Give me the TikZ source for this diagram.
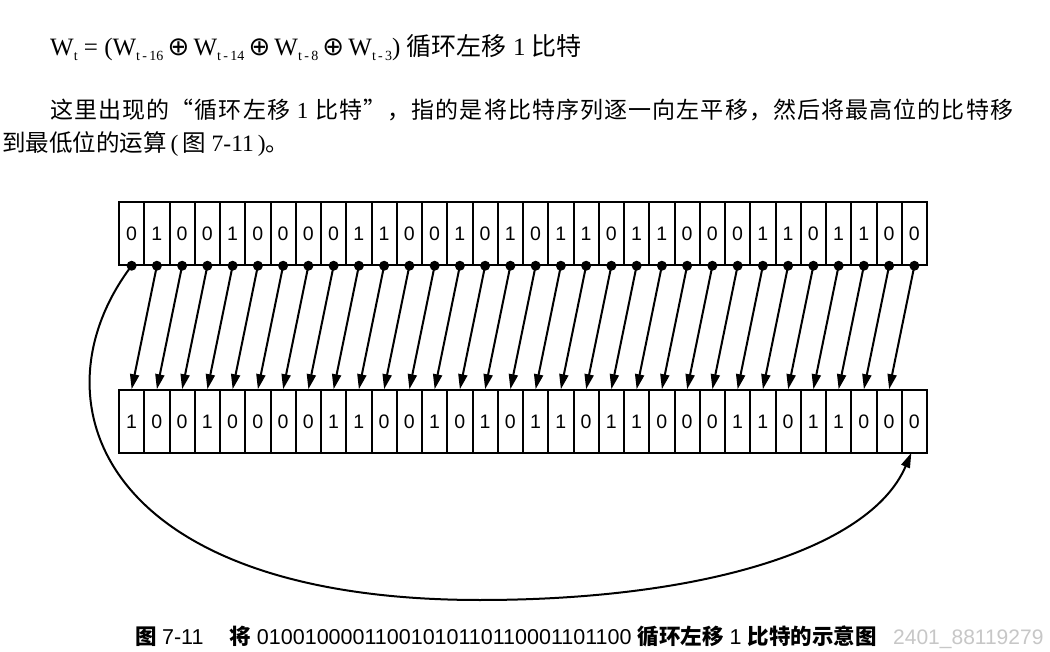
\documentclass[tikz,border=0pt]{standalone}
\usepackage{fontspec}
\setmainfont{Liberation Serif}
\setsansfont{Liberation Sans}
\newfontfamily\cjk{Noto Sans CJK SC}
\newfontfamily\dejavu{DejaVu Sans}
\usetikzlibrary{arrows.meta}
\makeatletter
\newcommand\spreadtext[2]{\makebox[#1][s]{\@tfor\sp@x:=#2\do{\sp@x\hskip0pt plus1fil}\unskip}}
\makeatother
\newcommand\wsb[1]{\raisebox{-4.5pt}{\fontsize{14}{14}\selectfont #1}}
\newcommand\xo{{\dejavu\fontsize{26}{26}\selectfont ⊕}}
\tikzset{
  cell/.style={draw, line width=2pt, minimum width=25.25pt, minimum height=62.5pt,
    inner sep=0pt, font=\sffamily\fontsize{19.5}{19.5}\selectfont},
  arr/.style={line width=2pt, -{Triangle[length=15pt,width=9pt]}},
  txt/.style={anchor=base west, inner sep=0pt},
}
\begin{document}
\begin{tikzpicture}[x=1pt,y=-1pt]
\fill[white] (0,0) rectangle (1050,652);
\useasboundingbox (0,0) rectangle (1050,652);
% text lines
\node[txt] (eq) at (50,56) {\fontsize{25}{25}\selectfont W\wsb{t} = (W\wsb{t\,-\,16}\,\xo\,W\wsb{t\,-\,14}\,\xo\,W\wsb{t\,-\,8}\,\xo\,W\wsb{t\,-\,3}) {\cjk 循环左移} 1 {\cjk 比特}};
\node[txt] (l2) at (50,119) {\cjk\fontsize{23}{23}\selectfont\spreadtext{963pt}{这里出现的“循环左移{{\rmfamily\ 1\ }}比特”，指的是将比特序列逐一向左平移，然后将最高位的比特移}};
\node[txt] (l3) at (2,152) {\fontsize{23.5}{23.5}\selectfont{\cjk 到最低位的运算}\,(\,{\cjk 图} 7-11\,){\cjk 。}};
% cells
\foreach \b [count=\i] in {0,1,0,0,1,0,0,0,0,1,1,0,0,1,0,1,0,1,1,0,1,1,0,0,0,1,1,0,1,1,0,0}
  \node[cell] (t\i) at ({119+(\i-0.5)*25.25},233.5) {\b};
\foreach \b [count=\i] in {1,0,0,1,0,0,0,0,1,1,0,0,1,0,1,0,1,1,0,1,1,0,0,0,1,1,0,1,1,0,0,0}
  \node[cell] (b\i) at ({119+(\i-0.5)*25.25},421.5) {\b};
% arrows
\foreach \i in {2,...,32}{
  \pgfmathtruncatemacro\j{\i-1}
  \draw[arr] (t\i.south) -- (b\j.north);
}
\foreach \i in {1,...,32}
  \fill (t\i.south) circle (5pt);
\coordinate (loopbottom) at (480,600);
\draw[arr] (t1.south) .. controls (30,400) and (100,600) .. (loopbottom)
  .. controls (700,600) and (870,550) .. ([xshift=-3pt,yshift=1pt]b32.south);
% caption
\node[txt] (cap) at (135,644) {\fontsize{21.5}{21.5}\selectfont{\cjk\bfseries 图} \sffamily 7-11\hspace{26pt}{\cjk\bfseries 将} 01001000011001010110110001101100 {\cjk\bfseries 循环左移} 1 {\cjk\bfseries 比特的示意图}};
\node[txt, text=black!22] (wm) at (893,644) {\sffamily\fontsize{21}{21}\selectfont 2401\_88119279};
\end{tikzpicture}
\end{document}
